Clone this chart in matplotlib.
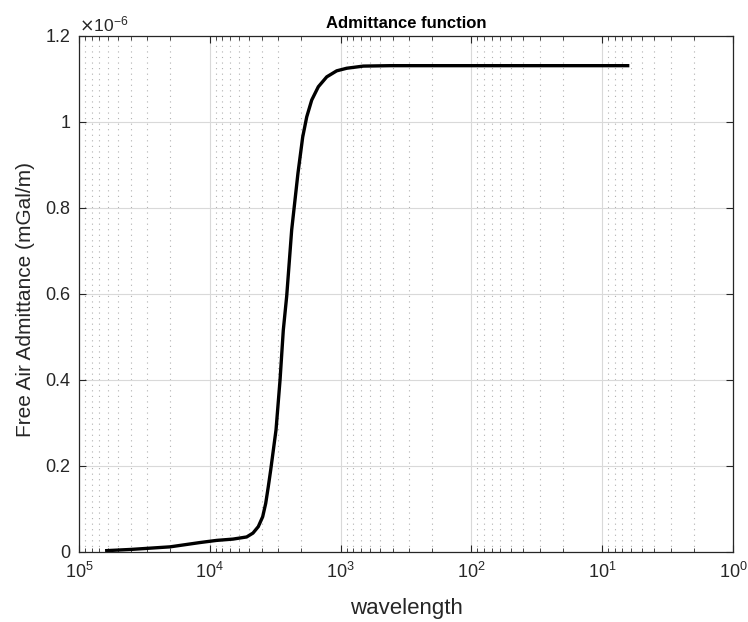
import matplotlib
matplotlib.use("Agg")
import matplotlib.pyplot as plt
from matplotlib.ticker import FuncFormatter, LogLocator, NullLocator, FixedLocator
import numpy as np

plt.rcParams['font.family'] = ['Liberation Sans', 'DejaVu Sans']

# wavelength (decreasing) and admittance (units of 1e-6 mGal/m)
wavelength = [63200, 40000, 20100, 11880, 8850, 6650, 5225, 4677, 4259, 3942,
              3738, 3571, 3422, 3117, 2904, 2742, 2583, 2366, 2118, 1949,
              1815, 1663, 1480, 1276, 1071, 898, 670, 419, 200, 100, 30, 6.2]
admittance_e6 = [0.003, 0.006, 0.012, 0.022, 0.027, 0.030, 0.035, 0.044, 0.059, 0.082,
                 0.113, 0.152, 0.191, 0.284, 0.400, 0.516, 0.595, 0.749, 0.881, 0.965,
                 1.012, 1.051, 1.082, 1.105, 1.119, 1.125, 1.130, 1.131, 1.131, 1.131, 1.131, 1.131]
admittance = np.array(admittance_e6) * 1e-6

title = "Admittance function"
xlabel = "wavelength"
ylabel = "Free Air Admittance (mGal/m)"
yticks = [0, 0.2e-6, 0.4e-6, 0.6e-6, 0.8e-6, 1.0e-6, 1.2e-6]

fig = plt.figure(figsize=(7.48, 6.22), dpi=100)
ax = fig.add_axes([79/748, 70/622, (733-79)/748, (552-36)/622])

ax.plot(wavelength, admittance, color='black', linewidth=2.4,
        solid_joinstyle='round', solid_capstyle='butt')

ax.set_xscale('log')
ax.set_xlim(1e5, 1e0)
ax.set_ylim(0, 1.2e-6)

ax.xaxis.set_major_locator(LogLocator(base=10, numticks=10))
ax.xaxis.set_minor_locator(LogLocator(base=10, subs=np.arange(2, 10), numticks=20))
ax.yaxis.set_major_locator(FixedLocator(yticks))
ax.yaxis.set_minor_locator(NullLocator())
ax.yaxis.set_major_formatter(FuncFormatter(lambda v, p: ('%g' % round(v * 1e6, 6))))

ax.grid(True, which='major', color='#d9d9d9', linewidth=0.8, linestyle='-')
ax.grid(True, which='minor', axis='x', color='#b0b0b0', linewidth=0.8, linestyle=(0, (1, 4)))
ax.set_axisbelow(True)

ax.tick_params(which='both', direction='in', top=True, right=True, colors='#262626',
               labelcolor='#262626', labelsize=13)
ax.tick_params(which='major', length=5, width=0.8)
ax.tick_params(which='minor', length=3, width=0.6)
ax.tick_params(axis='x', pad=7)
ax.tick_params(axis='y', pad=6)
for s in ax.spines.values():
    s.set_color('#262626')
    s.set_linewidth(0.9)

ax.set_title(title, fontsize=12, fontweight='bold', color='black', pad=6)
ax.set_xlabel(xlabel, fontsize=16, color='#262626')
ax.set_ylabel(ylabel, fontsize=15, color='#262626')
ax.xaxis.set_label_coords(0.5, -0.09)
ax.yaxis.set_label_coords(-0.068, 0.49)
ax.text(0.0, 1.004, r'$\times\mathregular{10^{-6}}$', transform=ax.transAxes,
        fontsize=12.5, color='#262626', ha='left', va='bottom')

fig.savefig('out.png', dpi=100)
